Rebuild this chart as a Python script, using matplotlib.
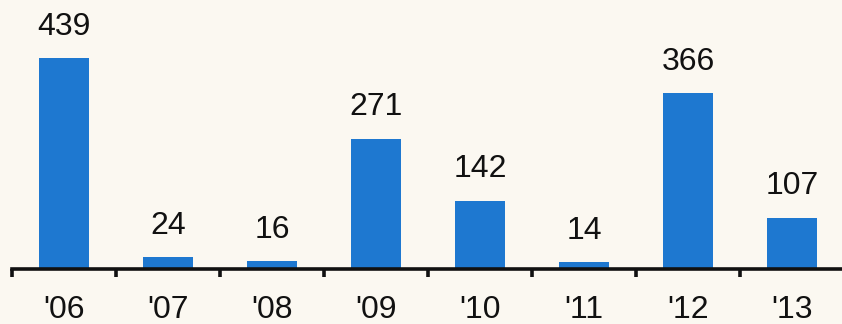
import matplotlib
matplotlib.use("Agg")
import matplotlib.pyplot as plt
import numpy as np

categories = ["'06", "'07", "'08", "'09", "'10", "'11", "'12", "'13"]
values = [439, 24, 16, 271, 142, 14, 366, 107]

bg = "#FBF8F1"
bar_color = "#1E78D0"

plt.rcParams['font.family'] = ['Liberation Sans', 'DejaVu Sans']

fig = plt.figure(figsize=(8.42, 3.24), dpi=100, facecolor=bg)
W, H = 842, 324
ax = fig.add_axes([12 / W, (H - 269) / H, 832 / W, 269 / H])
ax.set_facecolor(bg)

x = np.arange(len(categories))
bars = ax.bar(x, values, width=0.48, color=bar_color, zorder=2)
for xi, v in zip(x, values):
    ax.text(xi, v + 34, str(v), ha='center', va='bottom', fontsize=23, color='#111111')

ax.set_xlim(-0.5, len(categories) - 0.5)
ax.set_ylim(0, 559.7)
for s in ['top', 'right', 'left']:
    ax.spines[s].set_visible(False)
ax.spines['bottom'].set_linewidth(2.6)
ax.spines['bottom'].set_color('#111111')
ax.set_yticks([])
ax.set_xticks(x)
ax.set_xticklabels(categories, fontsize=23, color='#111111')
ax.tick_params(axis='x', which='major', length=0, pad=19)
ax.set_xticks(np.arange(-0.5, len(categories)), minor=True)
ax.tick_params(axis='x', which='minor', length=6, width=2.6, color='#111111', direction='out')

fig.savefig("out.png", dpi=100, facecolor=bg)
